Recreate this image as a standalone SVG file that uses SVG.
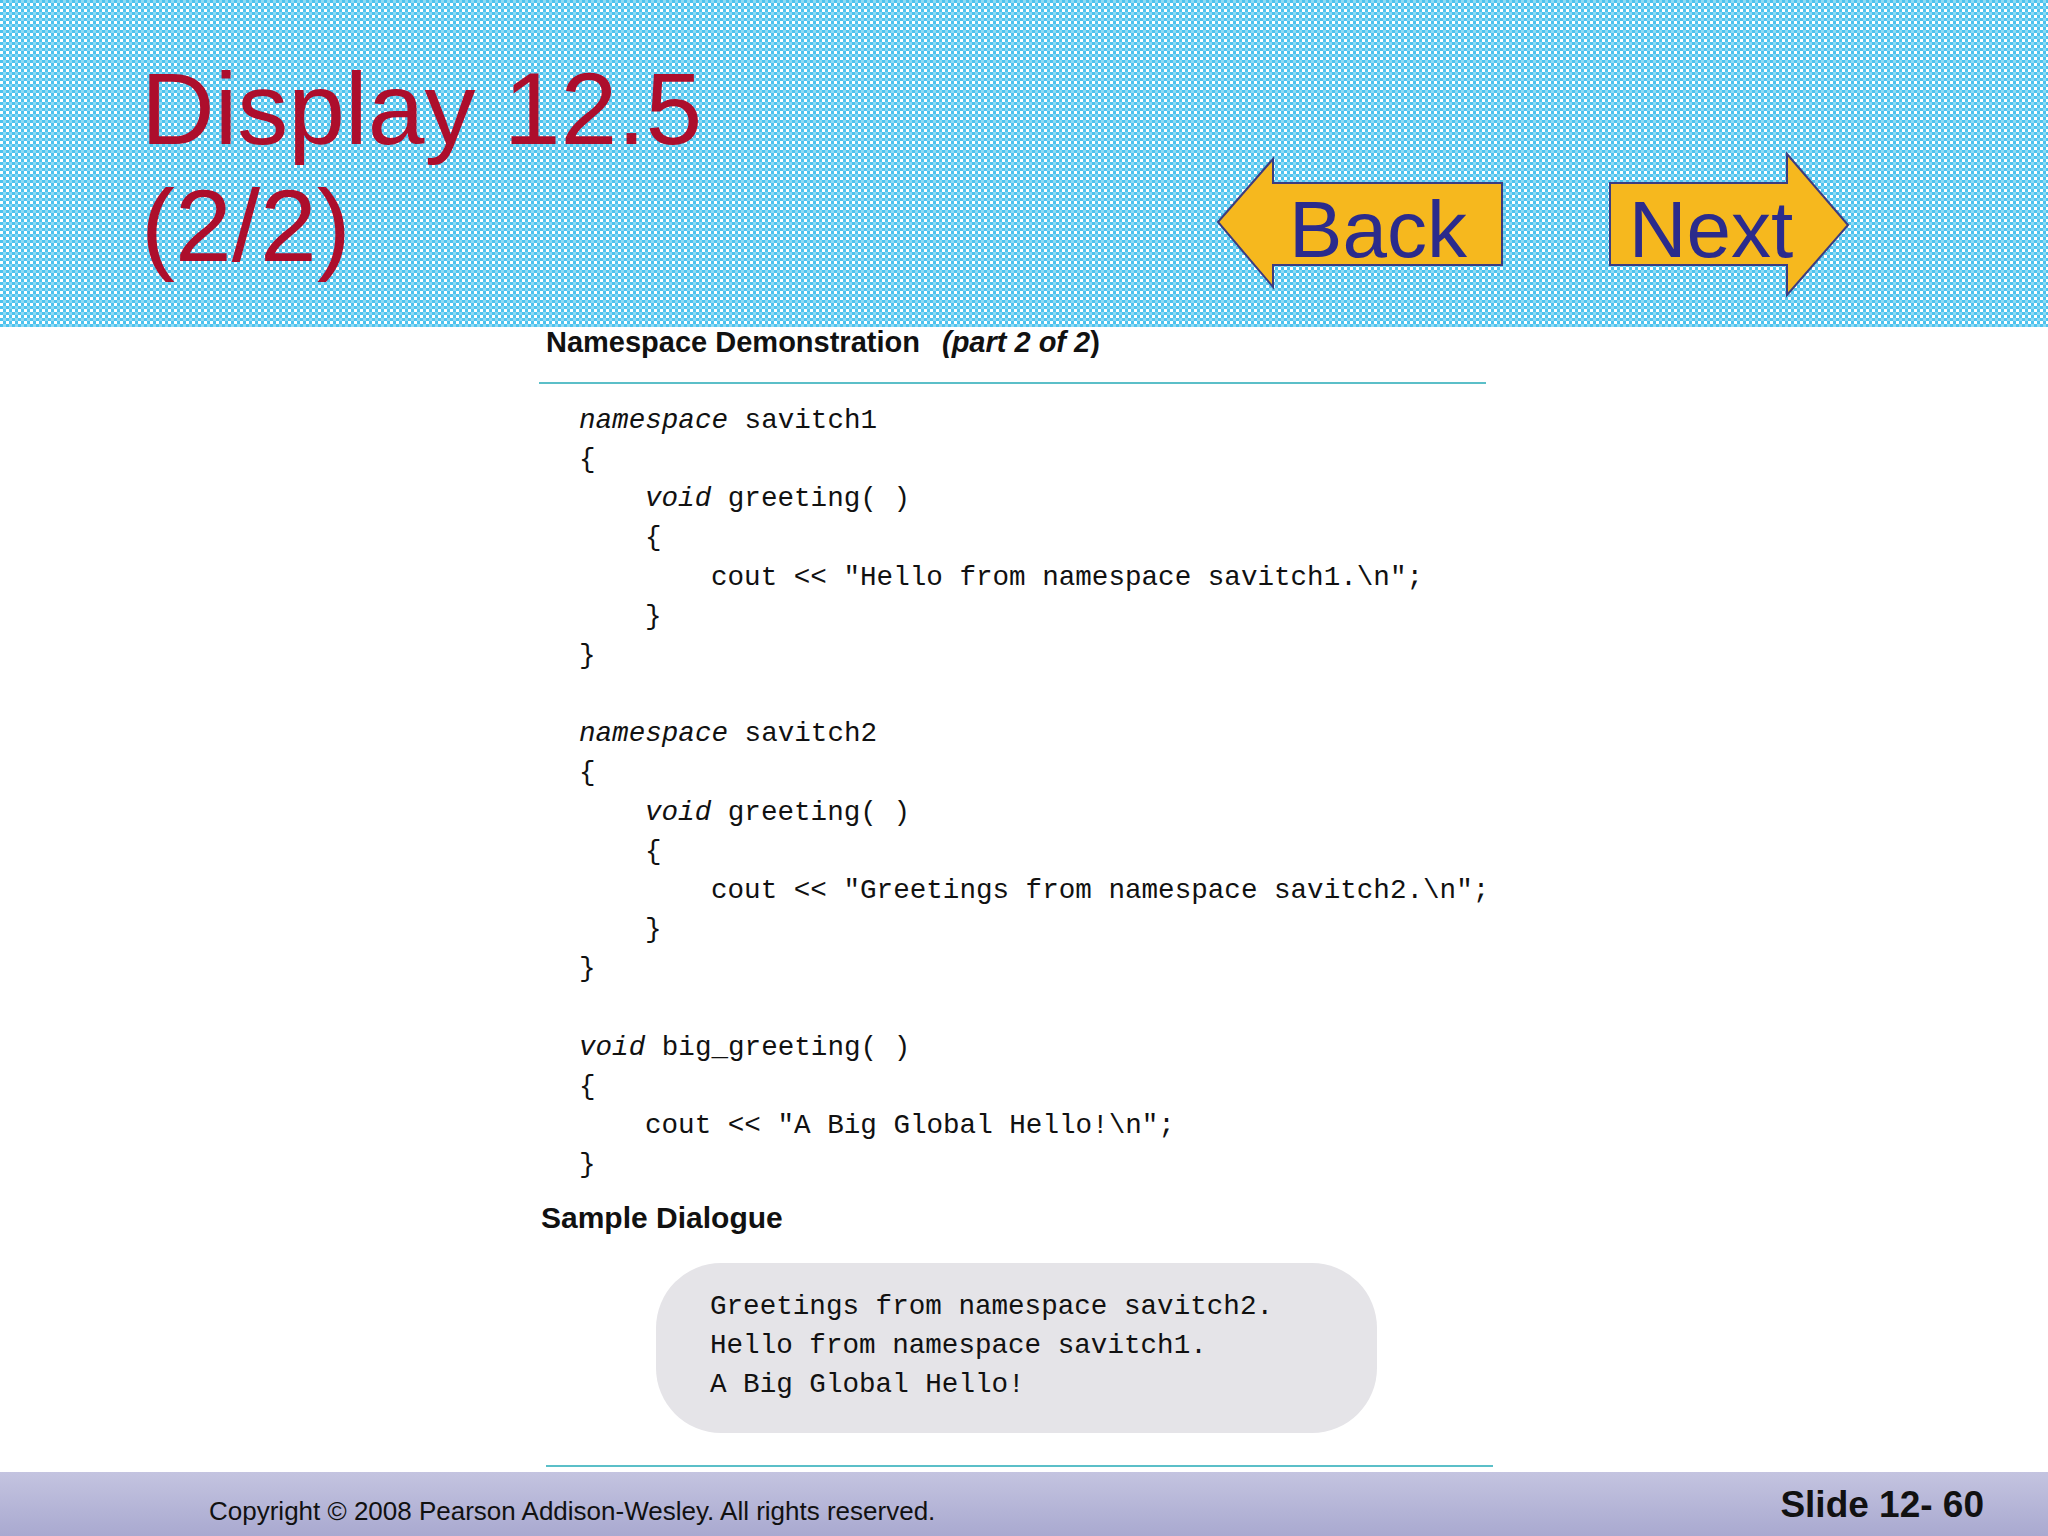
<svg xmlns="http://www.w3.org/2000/svg" width="2048" height="1536" viewBox="0 0 2048 1536">
<defs>
<pattern id="chk" width="6" height="6" patternUnits="userSpaceOnUse"><rect width="6" height="6" fill="#ffffff"/><rect width="3" height="3" fill="#4ec3ee"/><rect x="3" y="3" width="3" height="3" fill="#4ec3ee"/><rect x="3" width="3" height="3" fill="#8fdaf4"/></pattern>
<linearGradient id="foot" x1="0" y1="0" x2="0" y2="1"><stop offset="0" stop-color="#c4c4e0"/><stop offset="1" stop-color="#a9a9d0"/></linearGradient>
<style>
.code{font-family:"Liberation Mono","DejaVu Sans Mono",monospace;font-size:27.6px;fill:#111}
.kw{font-style:italic}
.arrow{fill:#f6b81e;stroke:#3c3c80;stroke-width:2}
.btn{font-family:"Liberation Sans",Arial,sans-serif;font-size:80px;fill:#2b2b8c;text-anchor:middle}
</style>
</defs>
<rect width="2048" height="1536" fill="#ffffff"/>
<rect width="2048" height="327" fill="url(#chk)"/>
<g id="title" font-family="Liberation Sans,Arial,sans-serif" font-size="102" fill="#ad0e2c">
<text x="141" y="144">Display 12.5</text>
<text x="141" y="261">(2/2)</text>
</g>
<g id="back">
<polygon class="arrow" points="1218,222 1273,159 1273,183 1502,183 1502,265 1273,265 1273,287"/>
<text class="btn" x="1378" y="257">Back</text>
</g>
<g id="next">
<polygon class="arrow" points="1848,225 1787,154 1787,183 1610,183 1610,265 1787,265 1787,295"/>
<text class="btn" x="1711" y="257">Next</text>
</g>
<g id="caption">
<text x="546" y="352" font-family="Liberation Sans,Arial,sans-serif" font-size="29" font-weight="bold" fill="#111">Namespace Demonstration <tspan dx="14" font-style="italic">(part 2 of 2</tspan>)</text>
<line x1="539" y1="383" x2="1486" y2="383" stroke="#5bbfc8" stroke-width="2"/>
</g>
<g id="code" class="code">
<text x="579" y="428"><tspan class="kw">namespace</tspan> savitch1</text>
<text x="579" y="467">{</text>
<text x="645" y="506"><tspan class="kw">void</tspan> greeting( )</text>
<text x="645" y="545">{</text>
<text x="711" y="585">cout &lt;&lt; "Hello from namespace savitch1.\n";</text>
<text x="645" y="624">}</text>
<text x="579" y="663">}</text>
<text x="579" y="741"><tspan class="kw">namespace</tspan> savitch2</text>
<text x="579" y="780">{</text>
<text x="645" y="820"><tspan class="kw">void</tspan> greeting( )</text>
<text x="645" y="859">{</text>
<text x="711" y="898">cout &lt;&lt; "Greetings from namespace savitch2.\n";</text>
<text x="645" y="937">}</text>
<text x="579" y="976">}</text>
<text x="579" y="1055"><tspan class="kw">void</tspan> big_greeting( )</text>
<text x="579" y="1094">{</text>
<text x="645" y="1133">cout &lt;&lt; "A Big Global Hello!\n";</text>
<text x="579" y="1172">}</text>
</g>
<g id="dialogue">
<text x="541" y="1228" font-family="Liberation Sans,Arial,sans-serif" font-size="30" font-weight="bold" fill="#111">Sample Dialogue</text>
<rect x="656" y="1263" width="721" height="170" rx="65" fill="#e5e4e8"/>
<g class="code">
<text x="710" y="1314">Greetings from namespace savitch2.</text>
<text x="710" y="1353">Hello from namespace savitch1.</text>
<text x="710" y="1392">A Big Global Hello!</text>
</g>
<line x1="546" y1="1466" x2="1493" y2="1466" stroke="#5bbfc8" stroke-width="2"/>
</g>
<g id="footer">
<rect y="1472" width="2048" height="64" fill="url(#foot)"/>
<text x="209" y="1520" font-family="Liberation Sans,Arial,sans-serif" font-size="26" fill="#111">Copyright © 2008 Pearson Addison-Wesley.  All rights reserved.</text>
<text x="1984" y="1517" text-anchor="end" font-family="Liberation Sans,Arial,sans-serif" font-size="37" font-weight="bold" fill="#111">Slide 12- 60</text>
</g>
</svg>
